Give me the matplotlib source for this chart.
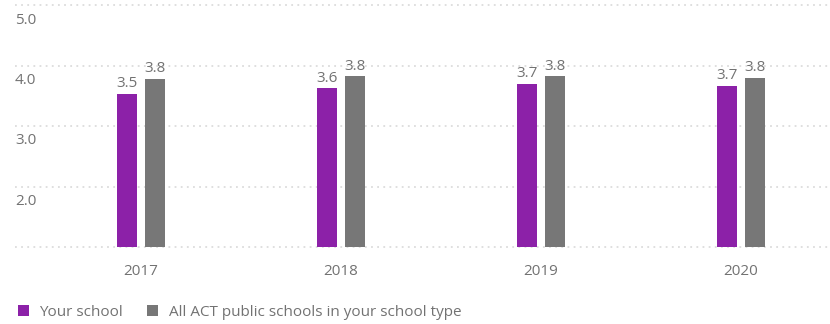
import matplotlib
matplotlib.use("Agg")
import matplotlib.pyplot as plt
import matplotlib.transforms as mtransforms
from matplotlib.patches import Patch
import numpy as np

plt.rcParams['font.family'] = ['Open Sans', 'DejaVu Sans']

years = ["2017", "2018", "2019", "2020"]
your_school = [3.53, 3.62, 3.69, 3.66]
all_schools = [3.78, 3.82, 3.82, 3.79]
series_names = ["Your school", "All ACT public schools in your school type"]
y_ticks = [2.0, 3.0, 4.0, 5.0]

PURPLE = "#8c21a8"
GREY = "#777777"
TEXT = "#727272"
GRID = "#dcdcdc"
FS = 11

fig = plt.figure(figsize=(8.3, 3.24), dpi=100)
ax = fig.add_axes([15 / 830, 1 - 247 / 324, 813 / 830, 242 / 324])

x = np.arange(len(years))
width = 0.102
off = 0.069

bars1 = ax.bar(x - off, your_school, width, color=PURPLE, zorder=3)
bars2 = ax.bar(x + off, all_schools, width, color=GREY, zorder=3)

for bars, vals in ((bars1, your_school), (bars2, all_schools)):
    for b, v in zip(bars, vals):
        ax.annotate(f"{v:.1f}", (b.get_x() + b.get_width() / 2, v),
                    xytext=(0, 2), textcoords="offset points",
                    ha="center", va="bottom", fontsize=FS, color=TEXT)

ax.set_ylim(1, 5)
ax.set_xlim(-0.63, 3.435)

# dotted horizontal grid
for g in [1, 2, 3, 4, 5]:
    ax.axhline(g, color=GRID, lw=1.3, linestyle=(0, (1, 2.4)), zorder=1,
               clip_on=False)

# y labels sit inside the plot, just below each grid line
lab_tr = mtransforms.offset_copy(
    mtransforms.blended_transform_factory(ax.transAxes, ax.transData),
    fig=fig, x=0, y=-15, units="dots")
for t in y_ticks:
    ax.text(0, t, f"{t:.1f}", transform=lab_tr, ha="left", va="center",
            fontsize=FS, color=TEXT)

ax.set_yticks([])
ax.set_xticks(x)
ax.set_xticklabels(years, fontsize=FS, color=TEXT)
ax.tick_params(axis="x", length=0, pad=12)
for s in ax.spines.values():
    s.set_visible(False)

handles = [Patch(facecolor=PURPLE, edgecolor="none"),
           Patch(facecolor=GREY, edgecolor="none")]
leg = fig.legend(handles, series_names, loc="lower left",
                 bbox_to_anchor=(0.005, -0.03), ncol=2, frameon=False,
                 handlelength=0.7, handleheight=0.7, handletextpad=0.7,
                 columnspacing=1.6, fontsize=FS)
for t in leg.get_texts():
    t.set_color(TEXT)

fig.savefig("out.png", dpi=100)
